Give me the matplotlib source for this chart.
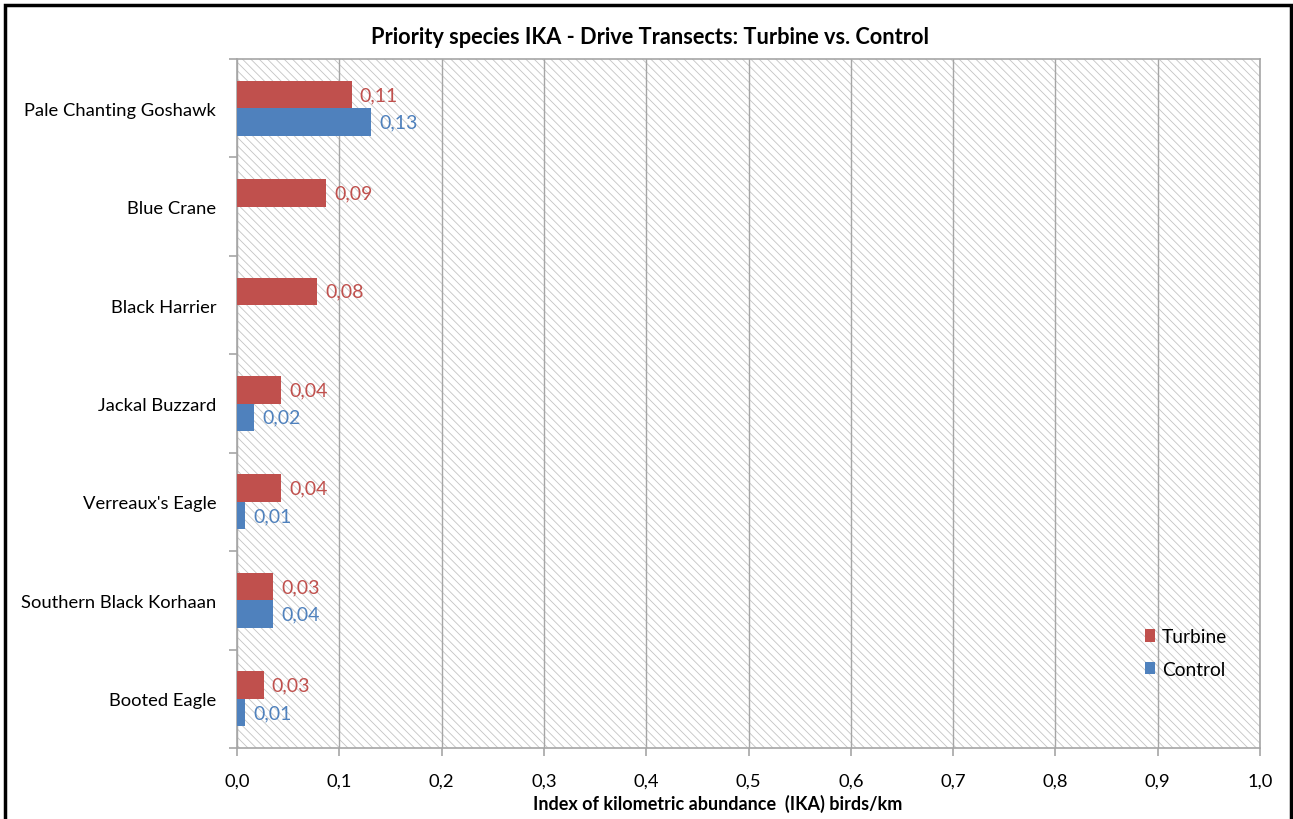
import numpy as np
import matplotlib.pyplot as plt
from matplotlib.patches import Rectangle
from matplotlib.ticker import FuncFormatter

plt.rcParams['font.family'] = ['Lato', 'DejaVu Sans']
plt.rcParams['hatch.linewidth'] = 0.6

species = ["Pale Chanting Goshawk", "Blue Crane", "Black Harrier", "Jackal Buzzard",
           "Verreaux's Eagle", "Southern Black Korhaan", "Booted Eagle"]
turbine = [0.112, 0.087, 0.078, 0.043, 0.043, 0.0349, 0.026]
control = [0.131, None, None, 0.017, 0.008, 0.0352, 0.008]

red = '#C0504D'
blue = '#4F81BD'
grey = '#a6a6a6'

fig = plt.figure(figsize=(12.93, 8.2), dpi=100)
ax = fig.add_axes([237/1293, 1 - 749/820, (1260 - 237)/1293, (749 - 60)/820])

# hatched plot background
ax.add_patch(Rectangle((0, 0), 1, 1, transform=ax.transAxes, facecolor='white',
                       edgecolor='#c4c4c4', linewidth=0, hatch='\\' * 4, zorder=0))

n = len(species)
y = np.arange(n)[::-1].astype(float)
h = 0.28
ax.barh(y + h/2, turbine, height=h, color=red, zorder=3, label='Turbine')
ctrl = [c if c is not None else 0 for c in control]
ax.barh(y - h/2, ctrl, height=h, color=blue, zorder=3, label='Control')

fmt = lambda v: ('%.2f' % v).replace('.', ',')
for yi, t, c in zip(y, turbine, control):
    ax.text(t + 0.008, yi + h/2, fmt(t), color=red, va='center', ha='left', fontsize=14, zorder=4)
    if c is not None:
        ax.text(c + 0.008, yi - h/2, fmt(c), color=blue, va='center', ha='left', fontsize=14, zorder=4)

ax.set_xlim(0, 1.0)
ax.set_ylim(-0.5, n - 0.5)
ax.set_xticks(np.arange(0, 1.01, 0.1))
ax.xaxis.set_major_formatter(FuncFormatter(lambda v, p: ('%.1f' % v).replace('.', ',')))
ax.set_yticks(y)
ax.set_yticklabels(species)
ax.set_yticks(np.arange(-0.5, n, 1.0), minor=True)
ax.tick_params(axis='y', which='major', length=0, pad=15, labelsize=13.2)
ax.tick_params(axis='y', which='minor', length=6, color=grey, width=1.2)
ax.tick_params(axis='x', which='major', length=6, color=grey, width=1.2, pad=12, labelsize=13.2)
ax.grid(axis='x', color=grey, linewidth=1.0, zorder=1)
ax.set_axisbelow(True)
for s in ax.spines.values():
    s.set_color(grey)
    s.set_linewidth(1.2)

ax.set_xlabel('Index of kilometric abundance  (IKA) birds/km', fontsize=13,
              fontweight='bold')
ax.xaxis.set_label_coords(0.47, -0.066)
fig.text(650/1293, 1 - 37/820, 'Priority species IKA - Drive Transects: Turbine vs. Control',
         ha='center', va='center', fontsize=15.7, fontweight='bold')

ax.legend(loc='lower right', bbox_to_anchor=(0.985, 0.077), frameon=False, fontsize=13.8,
          handlelength=0.55, handleheight=0.65, handletextpad=0.35, labelspacing=0.8)

# outer chart frame
fig.add_artist(Rectangle((5/1293, -0.01), (1291 - 5)/1293, 1 - 6/820 + 0.01,
                         transform=fig.transFigure, fill=False, edgecolor='black', linewidth=2.5))

fig.savefig('out.png', dpi=100)
